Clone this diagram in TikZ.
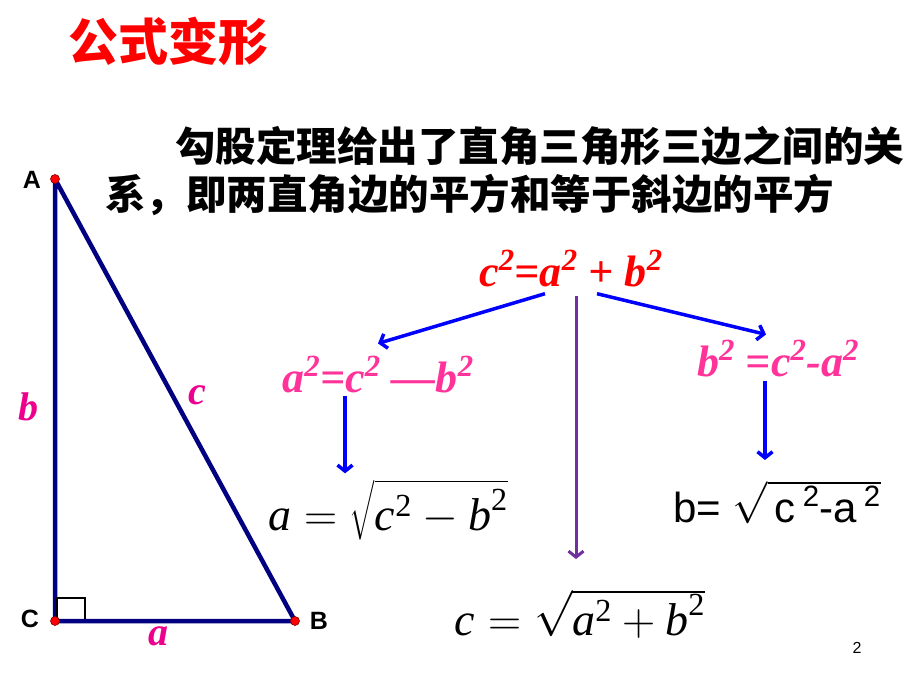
\documentclass[tikz,border=0pt]{standalone}
\usepackage{fix-cm}
\usepackage{amsmath}
\usepackage{fontspec}
\setmainfont{Liberation Serif}
\setsansfont{Liberation Sans}
\newfontfamily\cjk{Noto Sans CJK SC}
\usepackage{xcolor}
\usetikzlibrary{arrows.meta}
\definecolor{navy}{RGB}{0,0,128}
\definecolor{hotpink}{RGB}{255,51,153}
\definecolor{grape}{RGB}{112,48,160}
\newcommand{\vi}[1]{\text{\itshape #1}}
\tikzset{tri/.style={draw=navy, line width=4.5pt, line join=round},
 dot/.style={circle, fill=red, draw=red!50!black, line width=0.6pt, inner sep=0pt, minimum size=9pt},
 vlab/.style={font=\sffamily\bfseries\fontsize{25}{25}\selectfont},
 slab/.style={text=magenta, font=\bfseries\itshape\fontsize{40}{40}\selectfont},
 eq/.style={inner sep=0pt, font=\bfseries\itshape\fontsize{44}{44}\selectfont},
 blk/.style={inner sep=0pt, font=\fontsize{46}{46}\selectfont},
 barr/.style={draw=blue, line width=3.5pt, ->},
 parr/.style={draw=grape, line width=3pt, ->},
 >={Straight Barb[length=6pt, width=15pt]},
 }

\begin{document}
\begin{tikzpicture}[x=1pt, y=-1pt]
        \useasboundingbox (0,0) rectangle (920,690);
        \node[text=red, font=\cjk\bfseries\fontsize{50}{50}\selectfont] (title) at (168,41) {公式变形};
        \node[anchor=west, inner sep=0pt, font=\cjk\bfseries\fontsize{40.5}{40.5}\selectfont] (txta) at (175,146) {勾股定理给出了直角三角形三边之间的关};
        \node[anchor=west, inner sep=0pt, font=\cjk\bfseries\fontsize{40.5}{40.5}\selectfont] (txtb) at (105,195) {系，即两直角边的平方和等于斜边的平方};
        
        % triangle
        \coordinate (A) at (55,179);
        \coordinate (C) at (55,621);
        \coordinate (B) at (295,621);
        \draw[tri] (A) -- (B) -- (C) -- cycle;
        \draw[line width=1.2pt] (57,619) -- (57,598) -- (85,598) -- (85,619);
        \foreach \p in {A, B, C} {
            \node[dot] at (\p) {};
        }
        \node[vlab] (la) at (32,180) {A};
        \node[vlab] (lc) at (30,619) {C};
        \node[vlab] (lb) at (319,621) {B};
        \node[slab] (sb) at (28,407) {b};
        \node[slab] (sc) at (197,395) {c};
        \node[slab] (sa) at (158,636) {a};
        
        % formulas
        \node[eq, text=red, anchor=base] (eqc) at (571,286) {c\textsuperscript{2}=a\textsuperscript{2} + b\textsuperscript{2}};
        \node[eq, text=hotpink, anchor=base] (eqa) at (378,392) {a\textsuperscript{2}=c\textsuperscript{2} \textemdash b\textsuperscript{2}};
        \node[eq, text=hotpink, anchor=base] (eqb) at (778,376) {b\textsuperscript{2} =c\textsuperscript{2}-a\textsuperscript{2}};
        \node[blk, anchor=base] (sqa) at (388,530) {$\vi{a}=\sqrt{\vi{c}^{\text{2}}-\vi{b}^{\text{2}}}$};
        \node[blk, anchor=base] (sqc) at (580,635) {$\vi{c}=\sqrt{\vi{a}^{\text{2}}+\vi{b}^{\text{2}}}$};
        \node[inner sep=0pt, anchor=base, font=\sffamily\fontsize{42}{42}\selectfont] (sqb) at (777,522) {b= $\sqrt{\mbox{\,c\,\textsuperscript{2}-a\,\textsuperscript{2}}}$};
        \node[font=\sffamily\fontsize{16}{16}\selectfont] (pg) at (857,648) {2};
        
        \draw[barr] ([xshift=-26pt, yshift=-7pt]eqc.south) -- ([yshift=12pt]eqa.north);
        \draw[barr] ([xshift=26pt, yshift=-7pt]eqc.south) -- ([xshift=-12pt, yshift=5pt]eqb.north);
        \draw[parr] ([xshift=5pt, yshift=-9pt]eqc.south) -- ([xshift=-4pt, yshift=30pt]sqc.north);
        \draw[barr] ([xshift=-33pt, yshift=-3pt]eqa.south) -- ([xshift=-43pt, yshift=6pt]sqa.north);
        \draw[barr] ([xshift=-13pt, yshift=-4pt]eqb.south) -- ([xshift=-12pt, yshift=20pt]sqb.north);
    \end{tikzpicture}
\end{document}
